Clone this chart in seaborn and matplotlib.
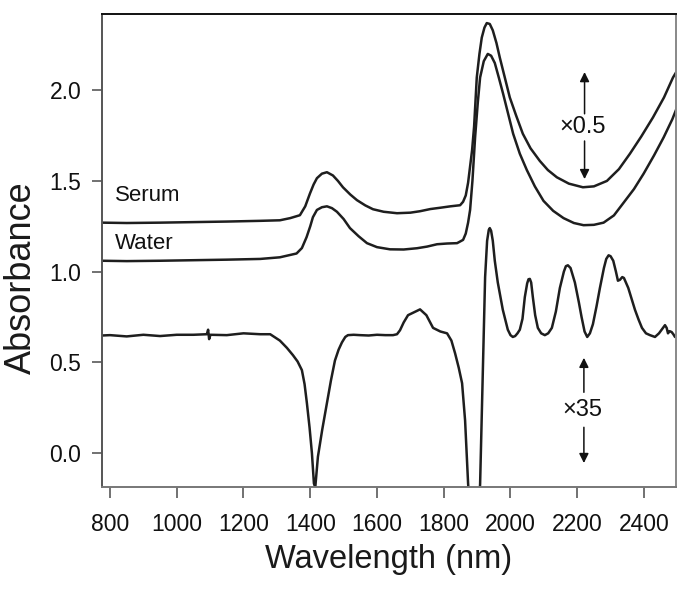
import matplotlib
matplotlib.use("Agg")
import matplotlib.pyplot as plt
import seaborn as sns
import pandas as pd

# ---------------- data ----------------
serum_nm = [776, 850, 950, 1050, 1150, 1250, 1309, 1340, 1369, 1385, 1399, 1410, 1420, 1435,
            1450, 1468, 1483, 1498, 1520, 1540, 1565, 1588, 1620, 1660, 1700, 1729, 1760,
            1789, 1820, 1849, 1858, 1866, 1873, 1879, 1885, 1891, 1899, 1907, 1914, 1922,
            1929, 1938, 1947, 1958, 1968, 1983, 1998, 2017, 2037, 2060, 2088, 2112, 2139,
            2175, 2217, 2250, 2289, 2325, 2358, 2392, 2427, 2460, 2487, 2500]
serum_abs = [1.270, 1.268, 1.270, 1.273, 1.276, 1.280, 1.283, 1.295, 1.311, 1.360, 1.430, 1.480,
             1.515, 1.540, 1.548, 1.530, 1.500, 1.465, 1.425, 1.394, 1.365, 1.344, 1.330, 1.322,
             1.325, 1.333, 1.345, 1.352, 1.360, 1.366, 1.385, 1.420, 1.490, 1.580, 1.670, 1.800,
             2.070, 2.200, 2.290, 2.345, 2.370, 2.365, 2.330, 2.260, 2.180, 2.070, 1.960, 1.860,
             1.760, 1.680, 1.610, 1.560, 1.520, 1.485, 1.465, 1.470, 1.500, 1.565, 1.650, 1.745,
             1.850, 1.960, 2.070, 2.110]

water_nm = [776, 850, 950, 1050, 1150, 1250, 1309, 1359, 1375, 1389, 1400, 1408, 1420, 1435,
            1450, 1465, 1480, 1500, 1519, 1545, 1570, 1600, 1639, 1680, 1720, 1750, 1780,
            1810, 1840, 1858, 1866, 1873, 1879, 1886, 1894, 1902, 1909, 1920, 1932, 1942,
            1953, 1965, 1978, 1993, 2008, 2028, 2049, 2073, 2099, 2128, 2159, 2190, 2219,
            2250, 2279, 2310, 2339, 2370, 2399, 2430, 2459, 2485, 2500]
water_abs = [1.060, 1.058, 1.060, 1.063, 1.066, 1.070, 1.079, 1.100, 1.130, 1.190, 1.250, 1.300,
             1.340, 1.355, 1.360, 1.350, 1.330, 1.290, 1.240, 1.195, 1.157, 1.135, 1.123, 1.122,
             1.129, 1.138, 1.151, 1.155, 1.157, 1.175, 1.210, 1.270, 1.340, 1.500, 1.740, 1.930,
             2.070, 2.160, 2.200, 2.190, 2.150, 2.070, 1.980, 1.870, 1.760, 1.650, 1.560, 1.470,
             1.390, 1.335, 1.295, 1.268, 1.256, 1.258, 1.270, 1.310, 1.380, 1.455, 1.540, 1.640,
             1.740, 1.840, 1.910]

diff_nm = [776, 800, 850, 900, 950, 1000, 1050, 1090, 1094, 1097, 1101, 1150, 1200, 1250,
           1280, 1309, 1330, 1348, 1362, 1375, 1383, 1390, 1398, 1405, 1411, 1415, 1423,
           1436, 1450, 1462, 1474, 1485, 1495, 1505, 1513, 1530, 1549, 1575, 1600, 1625,
           1648, 1660, 1669, 1680, 1693, 1710, 1729, 1748, 1768, 1790, 1810, 1823, 1834,
           1845, 1855, 1864, 1873, 1885, 1897, 1909, 1918, 1924, 1930, 1935, 1938, 1942,
           1947, 1953, 1962, 1977, 1992, 2000, 2007, 2014, 2021, 2028, 2036, 2043, 2050,
           2054, 2058, 2062, 2067, 2074, 2082, 2092, 2103, 2113, 2124, 2136, 2148, 2160,
           2166, 2172, 2180, 2193, 2205, 2213, 2222, 2230, 2238, 2247, 2258, 2268, 2280,
           2287, 2294, 2300, 2308, 2316, 2322, 2328, 2335, 2340, 2346, 2353, 2363, 2373,
           2384, 2394, 2406, 2418, 2433, 2445, 2453, 2463, 2468, 2472, 2477, 2483, 2488,
           2493, 2499]
diff_abs = [0.648, 0.650, 0.643, 0.652, 0.645, 0.652, 0.652, 0.655, 0.680, 0.628, 0.652, 0.650,
            0.660, 0.655, 0.655, 0.620, 0.580, 0.540, 0.505, 0.457, 0.380, 0.275, 0.140, 0.000,
            -0.167, -0.190, -0.020, 0.130, 0.275, 0.400, 0.510, 0.570, 0.610, 0.640, 0.650,
            0.652, 0.650, 0.648, 0.652, 0.650, 0.650, 0.655, 0.677, 0.720, 0.760, 0.775, 0.792,
            0.760, 0.690, 0.670, 0.660, 0.620, 0.550, 0.470, 0.385, 0.180, -0.167, -0.500,
            -0.600, -0.170, 0.510, 0.970, 1.170, 1.230, 1.240, 1.225, 1.170, 1.060, 0.940,
            0.790, 0.680, 0.650, 0.640, 0.645, 0.660, 0.680, 0.740, 0.860, 0.935, 0.958, 0.960,
            0.940, 0.860, 0.760, 0.690, 0.660, 0.650, 0.660, 0.690, 0.780, 0.910, 1.000, 1.030,
            1.035, 1.020, 0.940, 0.830, 0.750, 0.670, 0.640, 0.660, 0.710, 0.810, 0.910, 1.020,
            1.070, 1.090, 1.085, 1.060, 1.000, 0.950, 0.955, 0.970, 0.965, 0.940, 0.910, 0.850,
            0.790, 0.735, 0.690, 0.660, 0.650, 0.640, 0.660, 0.680, 0.705, 0.690, 0.660, 0.672,
            0.667, 0.655, 0.640, 0.660]

series_labels = ["Serum", "Water"]
scale_labels = ["\u00d70.5", "\u00d735"]
x_ticks = [800, 1000, 1200, 1400, 1600, 1800, 2000, 2200, 2400]
y_ticks = [0.0, 0.5, 1.0, 1.5, 2.0]

# ---------------- figure ----------------
sns.set_theme(style="white")
plt.rcParams["font.family"] = ["Liberation Sans", "DejaVu Sans"]

fig = plt.figure(figsize=(6.78, 5.94), dpi=100)
ax = fig.add_axes([102 / 678, 1 - 487 / 594, 574 / 678, 473 / 594])

line_kw = dict(color="#1e1e1e", linewidth=1.8, sort=False, estimator=None, legend=False)
sns.lineplot(data=pd.DataFrame({"nm": serum_nm, "abs": serum_abs}), x="nm", y="abs", ax=ax, **line_kw)
sns.lineplot(data=pd.DataFrame({"nm": water_nm, "abs": water_abs}), x="nm", y="abs", ax=ax, **line_kw)
sns.lineplot(data=pd.DataFrame({"nm": diff_nm, "abs": diff_abs}), x="nm", y="abs", ax=ax, **line_kw)

ax.set_xlim(776, 2496)
ax.set_ylim(-0.187, 2.42)
ax.set_xticks(x_ticks)
ax.set_yticks(y_ticks)
ax.set_yticklabels([f"{v:.1f}" for v in y_ticks])

for lab in ax.get_xticklabels() + ax.get_yticklabels():
    lab.set_fontsize(16.5)
    lab.set_color("#111111")

ax.tick_params(axis="x", direction="out", length=8, width=1.3, color="#666666", pad=11,
               bottom=True)
ax.tick_params(axis="y", direction="out", length=7, width=1.3, color="#666666", pad=8,
               left=True)

for side, col in [("top", "#111111"), ("left", "#555555"), ("bottom", "#777777"), ("right", "#888888")]:
    ax.spines[side].set_visible(True)
    ax.spines[side].set_color(col)
    ax.spines[side].set_linewidth(1.4)

ax.set_xlabel("Wavelength (nm)", fontsize=23.5, color="#1a1a1a")
ax.set_ylabel("Absorbance", fontsize=26, color="#1a1a1a")
ax.xaxis.set_label_coords(0.5, -0.12)
ax.yaxis.set_label_coords(-0.11, 0.442)

# series labels
ax.text(815, 1.42, series_labels[0], fontsize=16, va="center", ha="left", color="#111111")
ax.text(815, 1.157, series_labels[1], fontsize=16, va="center", ha="left", color="#111111")

# scale annotations with arrows
arrow = dict(arrowstyle="-|>", color="#111111", lw=1.1, mutation_scale=14, shrinkA=0, shrinkB=0)
ax.text(2217, 1.795, scale_labels[0], fontsize=17, va="center", ha="center", color="#111111")
ax.annotate("", xy=(2222, 2.10), xytext=(2222, 1.87), arrowprops=arrow)
ax.annotate("", xy=(2222, 1.51), xytext=(2222, 1.72), arrowprops=arrow)

ax.text(2215, 0.236, scale_labels[1], fontsize=17, va="center", ha="center", color="#111111")
ax.annotate("", xy=(2220, 0.525), xytext=(2220, 0.335), arrowprops=arrow)
ax.annotate("", xy=(2220, -0.055), xytext=(2220, 0.142), arrowprops=arrow)

fig.savefig("out.png", dpi=100)
